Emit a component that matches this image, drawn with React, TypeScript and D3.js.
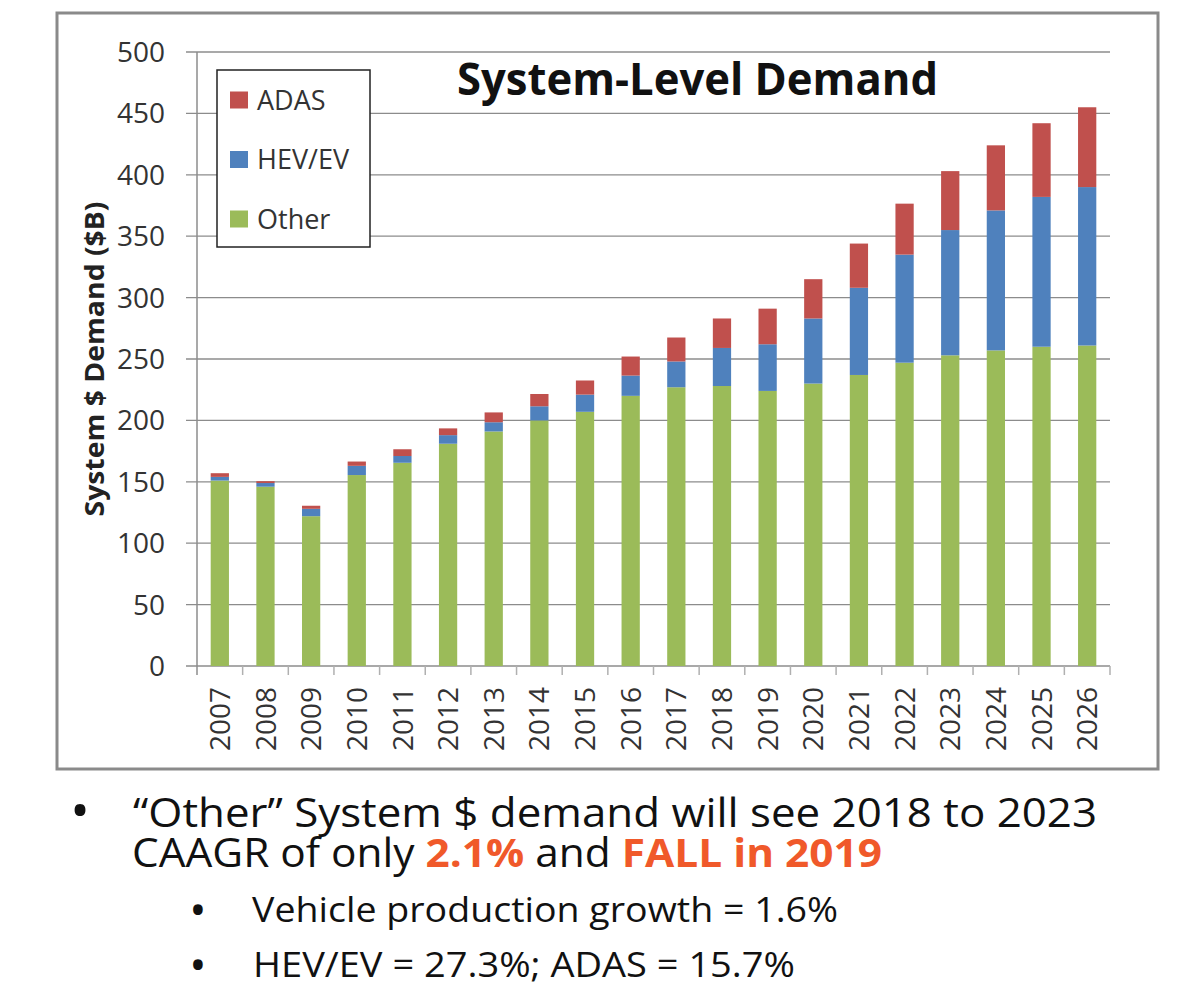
import React from "react";
import * as d3 from "d3";

const years = ["2007","2008","2009","2010","2011","2012","2013","2014","2015","2016","2017","2018","2019","2020","2021","2022","2023","2024","2025","2026"];
const other = [151,146,122,155.5,165.5,181,191,200,207,220,227,228,224,230,237,247,253,257,260,261];
const hevEv = [3,3,6,7.5,5.5,7,7.5,11.5,14,16.5,21,31,38,53,71,88,102,114,122,129];
const adas = [3,1.5,2.5,3.5,5.5,5.5,8,10,11.5,15.5,19.5,24,29,32,36,41.5,48,53,60,65];
const yTicks = [0,50,100,150,200,250,300,350,400,450,500];
const seriesNames = ["Other","HEV/EV","ADAS"];
const seriesColors = ["#9BBB59","#4F81BD","#C0504D"];
const legendOrder = ["ADAS","HEV/EV","Other"];

const title = "System-Level Demand";
const yTitle = "System $ Demand ($B)";

export default function App() {
  const W = 1200, H = 999;
  const x0 = 197, x1 = 1110, y0 = 666, yTop = 52;
  const x = d3.scaleBand<string>().domain(years).range([x0, x1]).paddingInner(0.6).paddingOuter(0.3);
  const y = d3.scaleLinear().domain([0, 500]).range([y0, yTop]);
  const rows = years.map((yr, i) => ({ year: yr, "Other": other[i], "HEV/EV": hevEv[i], "ADAS": adas[i] }));
  const stack = d3.stack<any>().keys(seriesNames)(rows);
  const step = x.step();
  const gap = (step - x.bandwidth()) / 2;
  const font = "'Open Sans', 'DejaVu Sans', sans-serif";
  const colorOf = (n: string) => seriesColors[seriesNames.indexOf(n)];
  const orange = "#F0592A";

  return (
    <svg width={W} height={H} style={{ position: "absolute", left: 0, top: 0, background: "#fff" }} fontFamily={font}>
      <rect x={0} y={0} width={W} height={H} fill="#fff" />
      {/* chart frame */}
      <rect x={57} y={13} width={1101} height={756} fill="#fff" stroke="#8a8a8a" strokeWidth={3} />
      {/* gridlines */}
      {yTicks.map(t => (
        <line key={t} x1={186} x2={x1} y1={y(t)} y2={y(t)} stroke="#8c8c8c" strokeWidth={1.3} />
      ))}
      {yTicks.map(t => (
        <text key={"l" + t} x={165} y={y(t)} dy="0.36em" textAnchor="end" fontSize={28} fill="#333">{t}</text>
      ))}
      {/* y axis */}
      <line x1={x0} x2={x0} y1={yTop} y2={y0 + 9} stroke="#8c8c8c" strokeWidth={1.5} />
      {/* x tick marks */}
      {years.map(yr => (
        <line key={"t" + yr} x1={(x(yr) as number) + x.bandwidth() + gap} x2={(x(yr) as number) + x.bandwidth() + gap} y1={y0} y2={y0 + 9} stroke="#b0b0b0" strokeWidth={1.5} />
      ))}
      {/* bars */}
      {stack.map((s: any) => (
        <g key={s.key} fill={colorOf(s.key)}>
          {s.map((d: any, i: number) => (
            <rect key={i} x={x(years[i])} width={x.bandwidth()} y={y(d[1])} height={y(d[0]) - y(d[1])} />
          ))}
        </g>
      ))}
      {/* x labels */}
      {years.map(yr => {
        const cx = (x(yr) as number) + x.bandwidth() / 2;
        return (
          <text key={"x" + yr} transform={`translate(${cx},${y0 + 21}) rotate(-90)`} textAnchor="end" dy="0.36em" fontSize={28} fill="#333">{yr}</text>
        );
      })}
      {/* y title */}
      <text transform={`translate(104,359) rotate(-90)`} textAnchor="middle" fontSize={27} fontWeight="bold" fill="#222" textLength={315} lengthAdjust="spacingAndGlyphs">{yTitle}</text>
      {/* title */}
      <text x={457} y={95} fontSize={45} fontWeight="bold" fill="#111" textLength={481} lengthAdjust="spacingAndGlyphs">{title}</text>
      {/* legend */}
      <rect x={217} y={70} width={153} height={177} fill="#fff" stroke="#222" strokeWidth={1.5} />
      {legendOrder.map((n, i) => (
        <g key={n} transform={`translate(230,${100 + i * 59.5})`}>
          <rect x={0} y={-8.5} width={18} height={17} fill={colorOf(n)} />
          <text x={27} y={0} dy="0.36em" fontSize={27} fill="#333">{n}</text>
        </g>
      ))}
      {/* bottom text */}
      <g fill="#111">
        <text x={80} y={829} fontSize={52} textAnchor="middle">•</text>
        <text x={133} y={827} fontSize={40} textLength={964} lengthAdjust="spacingAndGlyphs">“Other” System $ demand will see 2018 to 2023</text>
        <text x={132} y={867} fontSize={40} textLength={750} lengthAdjust="spacingAndGlyphs">CAAGR of only <tspan fill={orange} fontWeight="bold">2.1%</tspan> and <tspan fill={orange} fontWeight="bold">FALL in 2019</tspan></text>
        <text x={198} y={926} fontSize={46} textAnchor="middle">•</text>
        <text x={252} y={922} fontSize={35} textLength={586} lengthAdjust="spacingAndGlyphs">Vehicle production growth = 1.6%</text>
        <text x={198} y={981} fontSize={46} textAnchor="middle">•</text>
        <text x={253} y={977} fontSize={35} textLength={542} lengthAdjust="spacingAndGlyphs">HEV/EV = 27.3%; ADAS = 15.7%</text>
      </g>
    </svg>
  );
}
